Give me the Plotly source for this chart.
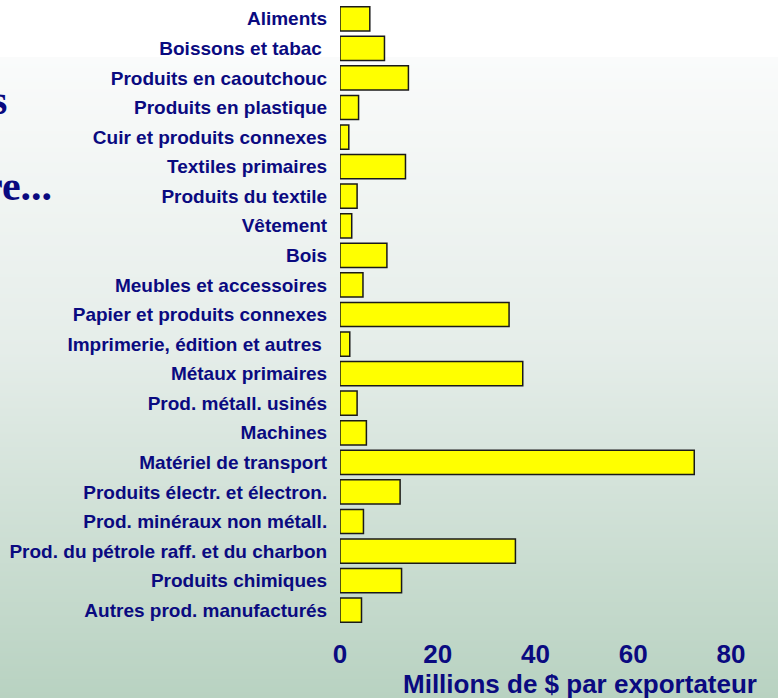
import base64, struct, zlib
import plotly.graph_objects as go

# ---- data ----
categories = [
    "Aliments", "Boissons et tabac ", "Produits en caoutchouc", "Produits en plastique",
    "Cuir et produits connexes", "Textiles primaires", "Produits du textile", "Vêtement",
    "Bois", "Meubles et accessoires", "Papier et produits connexes",
    "Imprimerie, édition et autres ", "Métaux primaires", "Prod. métall. usinés",
    "Machines", "Matériel de transport", "Produits électr. et électron.",
    "Prod. minéraux non métall.", "Prod. du pétrole raff. et du charbon",
    "Produits chimiques", "Autres prod. manufacturés",
]
values = [6.1, 9.1, 14.0, 3.8, 1.8, 13.4, 3.5, 2.4, 9.6, 4.7, 34.6,
          2.0, 37.4, 3.5, 5.4, 72.5, 12.3, 4.8, 35.9, 12.6, 4.4]
x_ticks = [0, 20, 40, 60, 80]
x_title = "Millions de $ par exportateur"
side_texts = ["s", "re..."]

W, H = 778, 698
ML, MR, MT, MB = 340, 8, 4, 73
PW, PH = W - ML - MR, H - MT - MB
NAVY = "#0a0a80"

# ---- background gradient image (style only) ----
def bg_color(y):
    if y < 57:
        return (255, 255, 255)
    stops = [(57, (250, 251, 251)), (350, (229, 237, 233)), (698, (184, 210, 193))]
    for (y0, c0), (y1, c1) in zip(stops[:-1], stops[1:]):
        if y <= y1:
            t = (y - y0) / (y1 - y0)
            return tuple(round(a + (b - a) * t) for a, b in zip(c0, c1))
    return stops[-1][1]

def make_png(w, h):
    raw = b""
    for y in range(h):
        r, g, b = bg_color(y)
        raw += b"\x00" + bytes([r, g, b]) * w
    def chunk(tag, data):
        c = struct.pack(">I", len(data)) + tag + data
        return c + struct.pack(">I", zlib.crc32(tag + data) & 0xffffffff)
    png = b"\x89PNG\r\n\x1a\n"
    png += chunk(b"IHDR", struct.pack(">IIBBBBB", w, h, 8, 2, 0, 0, 0))
    png += chunk(b"IDAT", zlib.compress(raw, 9))
    png += chunk(b"IEND", b"")
    return "data:image/png;base64," + base64.b64encode(png).decode()

fig = go.Figure(go.Bar(
    x=values, y=categories, orientation="h",
    marker=dict(color="#ffff00", line=dict(color="#1a1a1a", width=1.5)),
))

def px_x(p):
    return (p - ML) / PW

def px_y(p):
    return (H - MB - p) / PH

fig.update_layout(
    width=W, height=H,
    margin=dict(l=ML, r=MR, t=MT, b=MB),
    paper_bgcolor="white", plot_bgcolor="rgba(0,0,0,0)",
    showlegend=False, bargap=0.18,
    font=dict(family="Liberation Sans, Arial, sans-serif", color=NAVY),
    xaxis=dict(range=[0, 88], tickvals=x_ticks, showgrid=False, zeroline=False,
               showline=False, ticks="outside", ticklen=6, tickcolor="rgba(0,0,0,0)",
               tickfont=dict(size=26, color=NAVY, family="Liberation Sans, Arial, sans-serif", weight="bold")),
    yaxis=dict(autorange="reversed", showgrid=False, zeroline=False, showline=False,
               ticks="outside", ticklen=8, tickcolor="rgba(0,0,0,0)",
               tickfont=dict(size=19, color=NAVY, family="Liberation Sans, Arial, sans-serif", weight="bold")),
    images=[dict(source=make_png(2, H), xref="paper", yref="paper",
                 x=px_x(0), y=px_y(0), sizex=W / PW, sizey=H / PH,
                 xanchor="left", yanchor="top", sizing="stretch", layer="below")],
    annotations=[
        dict(text="<b>" + x_title + "</b>", xref="paper", yref="paper",
             x=px_x(580), y=px_y(684), xanchor="center", yanchor="middle", showarrow=False,
             font=dict(size=26, color=NAVY, family="Liberation Sans, Arial, sans-serif")),
        dict(text="<b>" + side_texts[0] + "</b>", xref="paper", yref="paper",
             x=px_x(9), y=px_y(100), xanchor="right", yanchor="middle", showarrow=False,
             font=dict(size=42, color=NAVY, family="Liberation Serif, Times New Roman, serif")),
        dict(text="<b>" + side_texts[1] + "</b>", xref="paper", yref="paper",
             x=px_x(54), y=px_y(186), xanchor="right", yanchor="middle", showarrow=False,
             font=dict(size=42, color=NAVY, family="Liberation Serif, Times New Roman, serif")),
    ],
)

fig.write_html("out.html", config={"displayModeBar": False},
               post_script="document.body.style.margin='0';document.body.style.overflow='hidden';")
